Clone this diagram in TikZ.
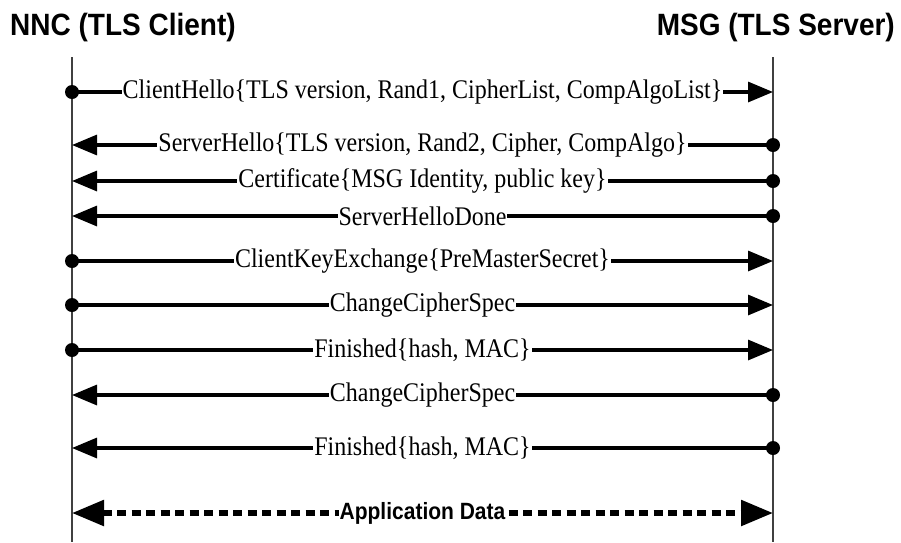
\documentclass[tikz,border=0pt]{standalone}
\usepackage{fontspec}
\setmainfont{Liberation Serif}
\setsansfont{Liberation Sans}
\usetikzlibrary{arrows.meta}

\tikzset{
 lifeline/.style={draw=black!75, line width=1.4pt},
 dot/.style={circle, fill=black, inner sep=0pt, minimum size=14pt},
 msg/.style={line width=3.2pt, -{Triangle[length=25pt,width=20pt]}},
 msgtext/.style={fill=white, inner sep=1pt, yscale=1.12,
   font={\fontsize{24}{24}\selectfont}},
 party/.style={font={\sffamily\bfseries\fontsize{28}{28}\selectfont},
   inner sep=0pt, yscale=1.1},
 datamsg/.style={line width=5.5pt, dash pattern=on 9pt off 5.5pt,
   {Triangle[length=32pt,width=25pt]}-{Triangle[length=32pt,width=25pt]}},
 datatext/.style={fill=white, inner sep=1pt, yscale=1.12,
   font={\sffamily\bfseries\fontsize{21}{21}\selectfont}}
}

\begin{document}
\begin{tikzpicture}[x=1pt, y=-1pt]

\useasboundingbox (0,0) rectangle (901,542);

\node [party, anchor=west] (client) at (10,28) {NNC (TLS Client)};
\node [party, anchor=east] (server) at (895,28) {MSG (TLS Server)};

\coordinate (ctop) at (72,57);
\coordinate (cbot) at (72,542);
\coordinate (stop) at (773,57);
\coordinate (sbot) at (773,542);

\draw [lifeline] (ctop) -- (cbot);
\draw [lifeline] (stop) -- (sbot);

% client -> server
\node [dot] (c1) at (72,92) {};
\coordinate (s1) at (773,92);
\draw [msg] (c1.center) -- node [msgtext] {ClientHello\{TLS version, Rand1, CipherList, CompAlgoList\}} (s1);

% server -> client
\node [dot] (s2) at (773,145) {};
\coordinate (c2) at (72,145);
\draw [msg] (s2.center) -- node [msgtext] {ServerHello\{TLS version, Rand2, Cipher, CompAlgo\}} (c2);

\node [dot] (s3) at (773,181) {};
\coordinate (c3) at (72,181);
\draw [msg] (s3.center) -- node [msgtext] {Certificate\{MSG Identity, public key\}} (c3);

\node [dot] (s4) at (773,216) {};
\coordinate (c4) at (72,216);
\draw [msg] (s4.center) -- node [msgtext] {ServerHelloDone} (c4);

% client -> server
\node [dot] (c5) at (72,261) {};
\coordinate (s5) at (773,261);
\draw [msg] (c5.center) -- node [msgtext] {ClientKeyExchange\{PreMasterSecret\}} (s5);

\node [dot] (c6) at (72,305) {};
\coordinate (s6) at (773,305);
\draw [msg] (c6.center) -- node [msgtext] {ChangeCipherSpec} (s6);

\node [dot] (c7) at (72,350) {};
\coordinate (s7) at (773,350);
\draw [msg] (c7.center) -- node [msgtext] {Finished\{hash, MAC\}} (s7);

% server -> client
\node [dot] (s8) at (773,395) {};
\coordinate (c8) at (72,395);
\draw [msg] (s8.center) -- node [msgtext] {ChangeCipherSpec} (c8);

\node [dot] (s9) at (773,448) {};
\coordinate (c9) at (72,448);
\draw [msg] (s9.center) -- node [msgtext] {Finished\{hash, MAC\}} (c9);

% both ways
\coordinate (c10) at (72,513);
\coordinate (s10) at (773,513);
\draw [datamsg] (c10) -- node [datatext] {Application Data} (s10);

\end{tikzpicture}
\end{document}
